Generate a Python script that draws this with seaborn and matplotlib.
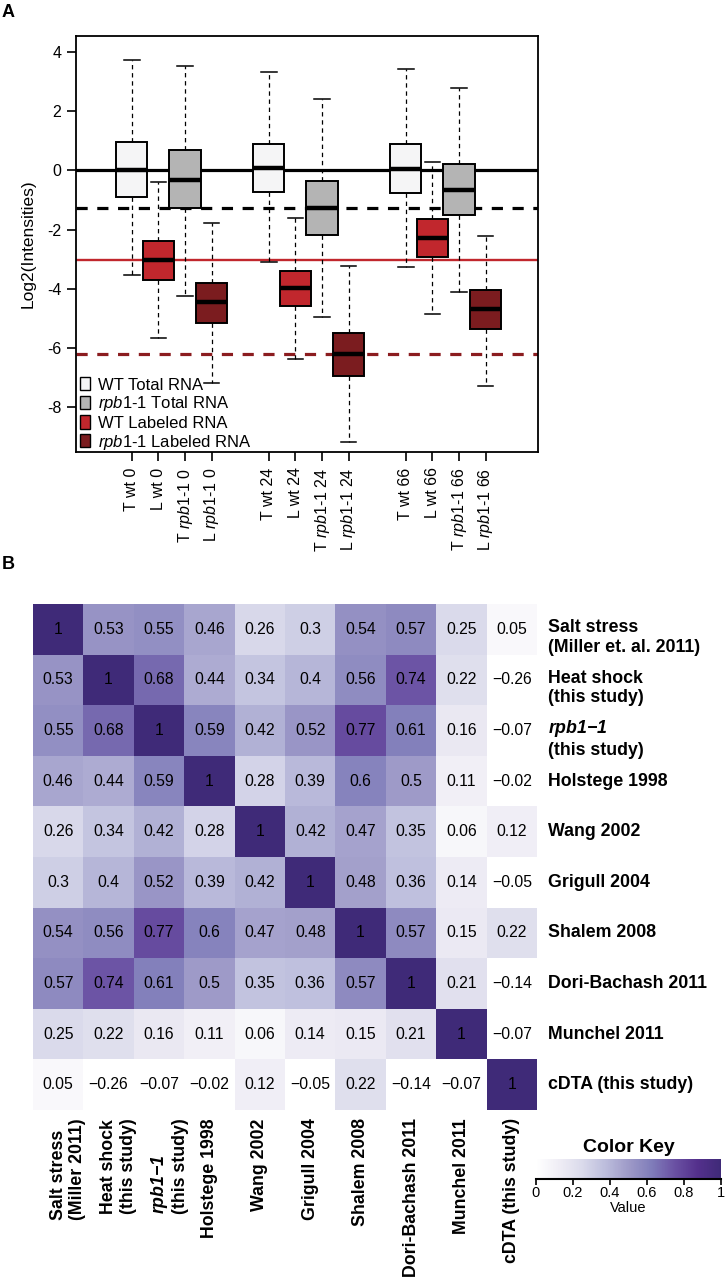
import numpy as np
import pandas as pd
import matplotlib
matplotlib.use("Agg")
import matplotlib.pyplot as plt
import seaborn as sns
from matplotlib.patches import Patch
from matplotlib.colors import LinearSegmentedColormap
from matplotlib.transforms import ScaledTranslation

plt.rcParams["font.family"] = ["Liberation Sans", "DejaVu Sans"]
plt.rcParams["axes.unicode_minus"] = False
plt.rcParams["mathtext.fontset"] = "custom"
plt.rcParams["mathtext.rm"] = "Liberation Sans"
plt.rcParams["mathtext.it"] = "Liberation Sans:italic"
plt.rcParams["mathtext.bf"] = "Liberation Sans:bold"
plt.rcParams["mathtext.bfit"] = "Liberation Sans:italic:bold"

# ---------------- Panel A data ----------------
timepoints = ["0", "24", "66"]
sample_prefixes = ["T wt", "L wt", r"T $\mathit{rpb1}$-$\mathit{1}$", r"L $\mathit{rpb1}$-$\mathit{1}$"]
sample_kinds = ["WT Total RNA", "WT Labeled RNA", "rpb1-1 Total RNA", "rpb1-1 Labeled RNA"]
kinds = ["WT Total RNA", "rpb1-1 Total RNA", "WT Labeled RNA", "rpb1-1 Labeled RNA"]
kind_labels = ["WT Total RNA", r"$\mathit{rpb1}$-$\mathit{1}$ Total RNA",
               "WT Labeled RNA", r"$\mathit{rpb1}$-$\mathit{1}$ Labeled RNA"]
kind_colors = ["#f5f5f6", "#b4b4b4", "#c1272d", "#7b1c1f"]

# five-number summaries, in order T wt, L wt, T rpb1-1, L rpb1-1 for 0, 24, 66
whisker_low = [-3.55, -5.67, -4.24, -7.19, -3.09, -6.36, -4.96, -9.19, -3.28, -4.85, -4.10, -7.27]
quart_low = [-0.91, -3.70, -1.28, -5.15, -0.74, -4.59, -2.19, -6.96, -0.78, -2.92, -1.52, -5.35]
medians = [0.00, -3.02, -0.33, -4.45, 0.07, -3.98, -1.28, -6.22, 0.05, -2.27, -0.68, -4.67]
quart_high = [0.95, -2.38, 0.69, -3.79, 0.90, -3.39, -0.35, -5.49, 0.90, -1.64, 0.21, -4.05]
whisker_high = [3.72, -0.40, 3.52, -1.79, 3.32, -1.60, 2.42, -3.24, 3.42, 0.27, 2.79, -2.21]

# reference lines
ref_levels = [0.0, -1.28, -3.02, -6.20]

# ---------------- Panel B data ----------------
col_names = ["Salt stress\n(Miller 2011)", "Heat shock\n(this study)",
             r"$\mathbfit{rpb1{-}1}$" + "\n(this study)", "Holstege 1998", "Wang 2002",
             "Grigull 2004", "Shalem 2008", "Dori-Bachash 2011", "Munchel 2011",
             "cDTA (this study)"]
row_names = ["Salt stress\n(Miller et. al. 2011)", "Heat shock\n(this study)",
             r"$\mathbfit{rpb1{-}1}$" + "\n(this study)", "Holstege 1998", "Wang 2002",
             "Grigull 2004", "Shalem 2008", "Dori-Bachash 2011", "Munchel 2011",
             "cDTA (this study)"]
r_salt = [1, 0.53, 0.55, 0.46, 0.26, 0.3, 0.54, 0.57, 0.25, 0.05]
r_heat = [0.53, 1, 0.68, 0.44, 0.34, 0.4, 0.56, 0.74, 0.22, -0.26]
r_rpb1 = [0.55, 0.68, 1, 0.59, 0.42, 0.52, 0.77, 0.61, 0.16, -0.07]
r_holstege = [0.46, 0.44, 0.59, 1, 0.28, 0.39, 0.6, 0.5, 0.11, -0.02]
r_wang = [0.26, 0.34, 0.42, 0.28, 1, 0.42, 0.47, 0.35, 0.06, 0.12]
r_grigull = [0.3, 0.4, 0.52, 0.39, 0.42, 1, 0.48, 0.36, 0.14, -0.05]
r_shalem = [0.54, 0.56, 0.77, 0.6, 0.47, 0.48, 1, 0.57, 0.15, 0.22]
r_dori = [0.57, 0.74, 0.61, 0.5, 0.35, 0.36, 0.57, 1, 0.21, -0.14]
r_munchel = [0.25, 0.22, 0.16, 0.11, 0.06, 0.14, 0.15, 0.21, 1, -0.07]
r_cdta = [0.05, -0.26, -0.07, -0.02, 0.12, -0.05, 0.22, -0.14, -0.07, 1]
key_ticks = [0, 0.2, 0.4, 0.6, 0.8, 1]

# ---------------- figure ----------------
W, H = 727, 1280
fig = plt.figure(figsize=(W / 100, H / 100), dpi=100)


def px_axes(l, t, r, b):
    return fig.add_axes([l / W, 1 - b / H, (r - l) / W, (b - t) / H])


# ---------------- Panel A ----------------
axA = px_axes(76, 35.7, 538, 451.5)
group_gap = 5.15
positions = [g * group_gap + i for g in range(len(timepoints)) for i in range(4)]
xlabels = [f"{p} {t}" for t in timepoints for p in sample_prefixes]
box_kind = [sample_kinds[i] for _ in timepoints for i in range(4)]

rows = []
for k in range(len(positions)):
    for v in (whisker_low[k], quart_low[k], medians[k], quart_high[k], whisker_high[k]):
        rows.append({"pos": positions[k], "value": v, "kind": box_kind[k]})
df = pd.DataFrame(rows)

sns.boxplot(data=df, x="pos", y="value", hue="kind", hue_order=kinds,
            palette=kind_colors, native_scale=True, dodge=False, width=1.17,
            whis=(0, 100), saturation=1, linecolor="black", linewidth=1.4,
            showfliers=False, legend=False, ax=axA,
            medianprops=dict(linewidth=3.2, color="black"),
            whiskerprops=dict(linestyle=(0, (3.5, 3)), linewidth=0.9),
            capprops=dict(linewidth=1.1))

ref_styles = [dict(color="black", lw=2.3, ls="-"),
              dict(color="black", lw=2.3, ls=(0, (3.5, 3))),
              dict(color="#c1272d", lw=1.7, ls="-"),
              dict(color="#8b1c1f", lw=2.3, ls=(0, (3.5, 3)))]
for lvl, st in zip(ref_levels, ref_styles):
    axA.axhline(lvl, zorder=1.5, **st)

axA.set_xlim(-2.1, 15.27)
axA.set_ylim(-9.5, 4.55)
axA.set_yticks([-8, -6, -4, -2, 0, 2, 4])
axA.set_xticks(positions)
axA.set_xticklabels(xlabels, rotation=90, fontsize=11.5)
axA.tick_params(axis="both", direction="out", length=6.5, width=1.2, labelsize=11.5, pad=4)
axA.tick_params(axis="x", pad=5)
axA.set_xlabel("")
axA.set_ylabel("Log2(Intensities)", fontsize=12.5, labelpad=8)
for sp in axA.spines.values():
    sp.set_linewidth(1.3)
    sp.set_visible(True)

handles = [Patch(facecolor=c, edgecolor="black", linewidth=1.0) for c in kind_colors]
axA.legend(handles, kind_labels, loc="lower left", bbox_to_anchor=(0.008, 0.0),
           frameon=False, fontsize=12, handlelength=0.62, handleheight=0.85,
           handletextpad=0.45, labelspacing=0.11, borderpad=0, borderaxespad=0)

# ---------------- Panel B ----------------
corr = pd.DataFrame([r_salt, r_heat, r_rpb1, r_holstege, r_wang, r_grigull,
                     r_shalem, r_dori, r_munchel, r_cdta])
annot = corr.map(lambda v: f"{v:g}".replace("-", "\u2212")).values

cmap = LinearSegmentedColormap.from_list(
    "key", ["#ffffff", "#efedf5", "#dadaeb", "#bcbddc", "#9e9ac8",
            "#807dba", "#6a51a3", "#54308c", "#3f2a78"])

axB = px_axes(33, 604, 537, 1110)
cax = px_axes(536, 1159, 721, 1179)
sns.heatmap(corr, ax=axB, cmap=cmap, vmin=0, vmax=1, annot=annot, fmt="",
            annot_kws=dict(fontsize=11.3, color="black",
                           family=["Liberation Sans", "DejaVu Sans"]),
            cbar_ax=cax, cbar_kws=dict(orientation="horizontal", ticks=key_ticks),
            xticklabels=col_names, yticklabels=row_names)

axB.yaxis.tick_right()
axB.set_yticklabels(row_names, rotation=0, fontsize=12.8, fontweight="bold",
                    ha="left", va="center")
axB.set_xticklabels(col_names, rotation=90, fontsize=12.8, fontweight="bold",
                    ha="center", va="top", multialignment="left")
axB.tick_params(axis="y", length=0, pad=8)
axB.tick_params(axis="x", length=0, pad=6)
axB.set_xlabel("")
axB.set_ylabel("")

cbar = axB.collections[0].colorbar
cbar.outline.set_visible(False)
cax.spines["bottom"].set_visible(True)
cax.spines["bottom"].set_linewidth(1.5)
cax.set_xticks(key_ticks)
cax.set_xticklabels([f"{t:g}" for t in key_ticks])
cax.tick_params(axis="x", length=4, width=1.2, labelsize=10.5, pad=1)
cax.set_xlabel("Value", fontsize=10.5, labelpad=1)
cax.set_title("Color Key", fontsize=14, fontweight="bold", pad=5)

# first-line alignment of two-line labels
for lab in axB.get_yticklabels():
    if "\n" in lab.get_text():
        lab.set_transform(lab.get_transform() + ScaledTranslation(0, -0.08, fig.dpi_scale_trans))
for lab in axB.get_xticklabels():
    if "\n" in lab.get_text():
        lab.set_transform(lab.get_transform() + ScaledTranslation(0.10, 0, fig.dpi_scale_trans))

fig.text(2 / W, 1 - 4 / H, "A", fontsize=13, fontweight="bold", va="top", ha="left")
fig.text(2 / W, 1 - 556 / H, "B", fontsize=13, fontweight="bold", va="top", ha="left")

fig.savefig("out.png", dpi=100)
